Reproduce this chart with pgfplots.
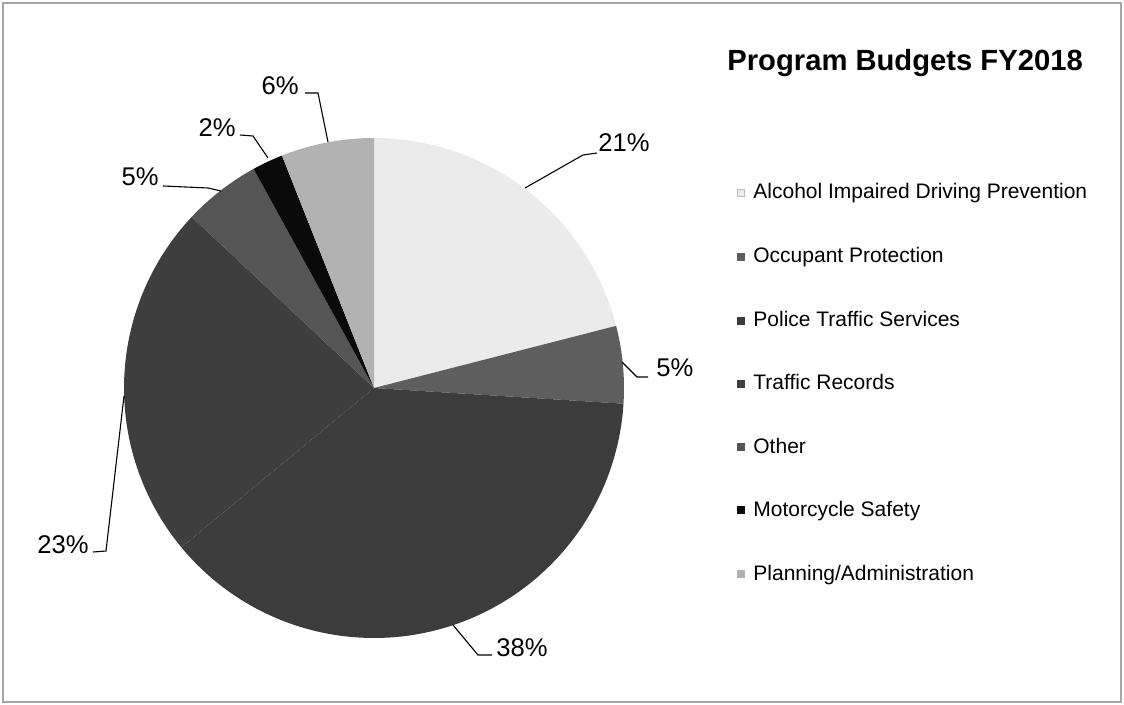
\documentclass[border=0pt]{standalone}
\usepackage{pgfplots}
\pgfplotsset{compat=1.18}
\usepackage{fontspec}
\setmainfont{Liberation Sans}
\definecolor{cAlc}{HTML}{EBEBEB}
\definecolor{cOcc}{HTML}{5E5E5E}
\definecolor{cPol}{HTML}{3C3C3C}
\definecolor{cTra}{HTML}{3E3E3E}
\definecolor{cOth}{HTML}{555555}
\definecolor{cMot}{HTML}{0A0A0A}
\definecolor{cPla}{HTML}{B2B2B2}
\begin{document}
\begin{tikzpicture}
\begin{axis}[width=562pt,height=352.5pt,scale only axis,
  xmin=0,xmax=1124,ymin=0,ymax=705,y dir=reverse,hide axis,clip=false]
\path (axis cs:0,0) rectangle (axis cs:1124,705);
\draw[gray!70,line width=0.6pt] (axis cs:3,3) rectangle (axis cs:1121,702);
% pie slices: parameter = cumulative percent, clockwise from 12 o'clock
\addplot[draw=none,fill=cAlc,domain=0:21,samples=60] ({374+250*sin(3.6*x)},{388-250*cos(3.6*x)}) -- (axis cs:374,388) -- cycle;
\addplot[draw=none,fill=cOcc,domain=21:26,samples=20] ({374+250*sin(3.6*x)},{388-250*cos(3.6*x)}) -- (axis cs:374,388) -- cycle;
\addplot[draw=none,fill=cPol,domain=26:64,samples=100] ({374+250*sin(3.6*x)},{388-250*cos(3.6*x)}) -- (axis cs:374,388) -- cycle;
\addplot[draw=none,fill=cTra,domain=64:87,samples=60] ({374+250*sin(3.6*x)},{388-250*cos(3.6*x)}) -- (axis cs:374,388) -- cycle;
\addplot[draw=none,fill=cOth,domain=87:92,samples=20] ({374+250*sin(3.6*x)},{388-250*cos(3.6*x)}) -- (axis cs:374,388) -- cycle;
\addplot[draw=none,fill=cMot,domain=92:94,samples=10] ({374+250*sin(3.6*x)},{388-250*cos(3.6*x)}) -- (axis cs:374,388) -- cycle;
\addplot[draw=none,fill=cPla,domain=94:100,samples=20] ({374+250*sin(3.6*x)},{388-250*cos(3.6*x)}) -- (axis cs:374,388) -- cycle;
% leader lines
\addplot[black,line width=0.55pt] coordinates {(597,153) (583,155) (525,188)};
\addplot[black,line width=0.55pt] coordinates {(648,377) (637,377) (622,362)};
\addplot[black,line width=0.55pt] coordinates {(492,655) (478,655) (453,625)};
\addplot[black,line width=0.55pt] coordinates {(93,552) (106,551) (124,396)};
\addplot[black,line width=0.55pt] coordinates {(163,186) (208,188) (221,191)};
\addplot[black,line width=0.55pt] coordinates {(240,135) (253,136) (268,158)};
\addplot[black,line width=0.55pt] coordinates {(305,93) (318,93) (328,142)};
% data labels
\begin{scope}[every node/.style={font=\fontsize{12.8}{15}\selectfont,inner sep=0pt}]
\node[anchor=west] at (axis cs:598,143) {21\%};
\node[anchor=west] at (axis cs:656,368) {5\%};
\node[anchor=west] at (axis cs:496,648) {38\%};
\node[anchor=east] at (axis cs:89,545) {23\%};
\node[anchor=east] at (axis cs:159,177) {5\%};
\node[anchor=east] at (axis cs:236,128) {2\%};
\node[anchor=east] at (axis cs:299,86) {6\%};
\end{scope}
% title
\node[anchor=base west,inner sep=0pt,font=\fontsize{14.6}{17}\selectfont\bfseries] at (axis cs:727,71) {Program Budgets FY2018};
% legend
\addplot[only marks,mark=square*,mark size=1.6pt,draw=cAlc!80!black,fill=cAlc] coordinates {(741,193)};
\addplot[only marks,mark=square*,mark size=1.6pt,draw=cOcc,fill=cOcc] coordinates {(741,257)};
\addplot[only marks,mark=square*,mark size=1.6pt,draw=cPol,fill=cPol] coordinates {(741,321)};
\addplot[only marks,mark=square*,mark size=1.6pt,draw=cTra,fill=cTra] coordinates {(741,384)};
\addplot[only marks,mark=square*,mark size=1.6pt,draw=cOth,fill=cOth] coordinates {(741,447)};
\addplot[only marks,mark=square*,mark size=1.6pt,draw=cMot,fill=cMot] coordinates {(741,510)};
\addplot[only marks,mark=square*,mark size=1.6pt,draw=cPla,fill=cPla] coordinates {(741,574)};
\begin{scope}[every node/.style={anchor=base west,inner sep=0pt,font=\fontsize{10.5}{12}\selectfont}]
\node at (axis cs:753,199) {Alcohol Impaired Driving Prevention};
\node at (axis cs:753,263) {Occupant Protection};
\node at (axis cs:753,327) {Police Traffic Services};
\node at (axis cs:753,390) {Traffic Records};
\node at (axis cs:753,453) {Other};
\node at (axis cs:753,516) {Motorcycle Safety};
\node at (axis cs:753,580) {Planning/Administration};
\end{scope}
\end{axis}
\end{tikzpicture}
\end{document}
